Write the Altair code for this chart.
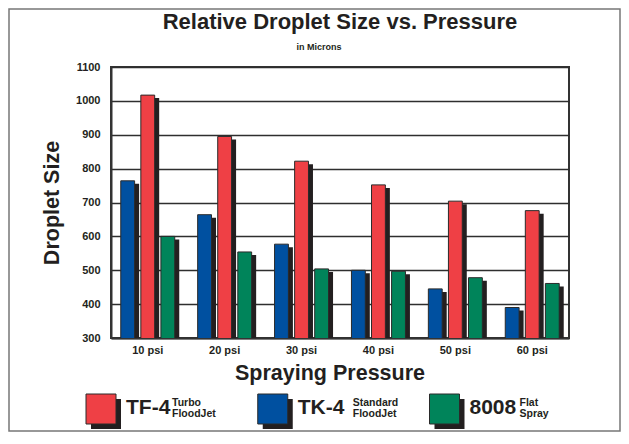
import altair as alt
import pandas as pd

FONT = "Liberation Sans"
INK = "#231f20"

pressures = ["10 psi", "20 psi", "30 psi", "40 psi", "50 psi", "60 psi"]
tf4_sizes = [1017, 895, 822, 752, 704, 676]
tk4_sizes = [764, 664, 577, 500, 445, 390]
flat_sizes = [600, 554, 504, 497, 478, 461]

nozzles = ["TF-4", "TK-4", "8008"]
nozzle_notes = ["Turbo\nFloodJet", "Standard\nFloodJet", "Flat\nSpray"]
nozzle_colors = ["#EF4045", "#0050A0", "#00845A"]
group_order = ["TK-4", "TF-4", "8008"]
y_ticks = [300, 400, 500, 600, 700, 800, 900, 1000, 1100]

rows = []
for name, vals in zip(nozzles, [tf4_sizes, tk4_sizes, flat_sizes]):
    for p, v in zip(pressures, vals):
        rows.append({"pressure": p, "nozzle": name, "size": v})
df = pd.DataFrame(rows)
leg = pd.DataFrame({"nozzle": nozzles, "note": nozzle_notes})

W, H = 458, 271
PI, PO = 0.298, 0.127
BAND = W / (len(pressures) - PI + 2 * PO) * (1 - PI)
SHX, SHY = 4.5, 3

color = alt.Color("nozzle:N", scale=alt.Scale(domain=nozzles, range=nozzle_colors), legend=None)
x = alt.X(
    "pressure:N", sort=pressures,
    scale=alt.Scale(paddingInner=PI, paddingOuter=PO),
    axis=alt.Axis(title="Spraying Pressure", labelAngle=0, ticks=False, labelPadding=6,
                  labelFont=FONT, labelFontSize=11, labelFontWeight="bold", labelColor=INK,
                  titleFont=FONT, titleFontSize=21.5, titleFontWeight="bold", titleColor=INK,
                  titlePadding=7, titleX=218.5, domainColor="#333", domainWidth=2),
)
xo_main = alt.XOffset("nozzle:N", sort=group_order,
                      scale=alt.Scale(paddingInner=0.31, paddingOuter=0, range=[0, BAND]))
xo_shadow = alt.XOffset("nozzle:N", sort=group_order,
                        scale=alt.Scale(paddingInner=0.31, paddingOuter=0, range=[SHX, BAND + SHX]))
y_main = alt.Y(
    "size:Q",
    scale=alt.Scale(domain=[300, 1100], zero=False, nice=False),
    axis=alt.Axis(values=y_ticks, format="d", title="Droplet Size", ticks=False, labelPadding=11,
                  labelFont=FONT, labelFontSize=11, labelFontWeight="bold", labelColor=INK,
                  titleFont=FONT, titleFontSize=21.5, titleFontWeight="bold", titleColor=INK,
                  titlePadding=12, grid=True, gridColor="#2e2e2e", gridWidth=1.6, gridOpacity=1,
                  domainColor="#333", domainWidth=2),
)
y_shadow = alt.Y("size:Q", scale=alt.Scale(domain=[300, 1100], zero=False, nice=False,
                                           range=[H + SHY, SHY]), axis=None)

shadow = alt.Chart(df).mark_bar(color=INK, clip=True).encode(x=x, xOffset=xo_shadow, y=y_shadow)
bars = alt.Chart(df).mark_bar(stroke="#2a2a2a", strokeWidth=1, clip=True).encode(
    x=x, xOffset=xo_main, y=y_main, color=color)
bar_layer = alt.layer(shadow, bars).resolve_scale(xOffset="independent", y="independent")

title_df = pd.DataFrame({"t": ["Relative Droplet Size vs. Pressure"]})
sub_df = pd.DataFrame({"t": ["in Microns"]})
title = alt.Chart(title_df).mark_text(font=FONT, fontSize=22, fontWeight="bold", color=INK,
                                      align="center", baseline="alphabetic").encode(
    text="t:N", x=alt.value(229), y=alt.value(-38))
subtitle = alt.Chart(sub_df).mark_text(font=FONT, fontSize=9, fontWeight="bold", color=INK,
                                       align="center", baseline="alphabetic").encode(
    text="t:N", x=alt.value(208), y=alt.value(-17))
border = alt.Chart(sub_df).mark_rect(fill="transparent", stroke="#777", strokeWidth=1.5).encode(
    x=alt.value(-102), x2=alt.value(509), y=alt.value(-58), y2=alt.value(364))

main = alt.layer(border, bar_layer, title, subtitle)

lx = alt.X("nozzle:N", sort=nozzles, scale=alt.Scale(type="point", range=[-10, 333.5], padding=0), axis=None)
LY = 342
sw_shadow = alt.Chart(leg).mark_square(size=900, color=INK, opacity=1, xOffset=5, yOffset=5).encode(
    x=lx, y=alt.value(LY))
sw = alt.Chart(leg).mark_square(size=900, opacity=1, filled=True, stroke="#2a2a2a", strokeWidth=1).encode(
    x=lx, y=alt.value(LY), color=color)
big = alt.Chart(leg).mark_text(font=FONT, fontSize=21, fontWeight="bold", color=INK, align="left",
                               baseline="alphabetic", dx=25, dy=5).encode(
    x=lx, y=alt.value(LY), text="nozzle:N")
note_dx = [71, 80, 75]
notes = []
for name, ddx in zip(nozzles, note_dx):
    notes.append(
        alt.Chart(leg).transform_filter(alt.datum.nozzle == name).mark_text(
            font=FONT, fontSize=10.5, fontWeight="bold", color=INK, align="left",
            baseline="alphabetic", lineBreak="\n", lineHeight=11.5, dx=ddx, dy=-3.5).encode(
            x=lx, y=alt.value(LY), text="note:N")
    )
legend = alt.layer(sw_shadow, sw, big, *notes)

chart = alt.layer(main, legend).resolve_scale(x="independent").properties(
    width=W, height=H,
    autosize=alt.AutoSizeParams(type="none"),
    padding={"left": 103, "top": 59, "right": 52, "bottom": 94},
).configure_view(stroke="#333", strokeWidth=2)

chart.save("out.html", embed_options={"renderer": "svg", "actions": False})
